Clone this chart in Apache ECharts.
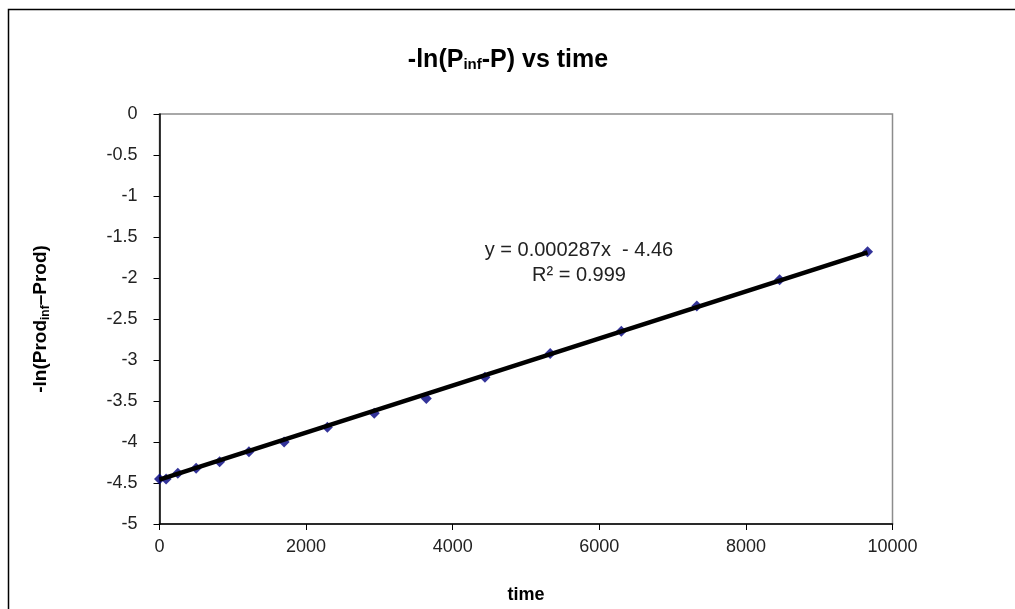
<!DOCTYPE html>
<html>
<head>
<meta charset="utf-8">
<script src="https://cdn.jsdelivr.net/npm/echarts@6/dist/echarts.min.js"></script>
<style>html,body{margin:0;padding:0;background:#fff}#c{width:1015px;height:609px}</style>
</head>
<body>
<div id="c"></div>
<script>
// Data
const timeValues = [0, 90, 250, 500, 820, 1220, 1700, 2290, 2930, 3640, 4440, 5330, 6300, 7330, 8460, 9660];
const lnValues = [-4.45, -4.45, -4.38, -4.32, -4.24, -4.12, -4.00, -3.82, -3.65, -3.47, -3.21, -2.92, -2.65, -2.34, -2.02, -1.68];
const trendSlope = 0.000287;
const trendIntercept = -4.46;
const equationLines = ['y = 0.000287x  - 4.46', 'R\u00b2 = 0.999'];
const xTicks = { min: 0, max: 10000, interval: 2000 };
const yTicks = { min: -5, max: 0, interval: 0.5 };

const points = timeValues.map((t, i) => [t, lnValues[i]]);
const tMin = Math.min(...timeValues), tMax = Math.max(...timeValues);
const trend = [[tMin, trendSlope * tMin + trendIntercept], [tMax, trendSlope * tMax + trendIntercept]];

const font = '"Liberation Sans", Arial, sans-serif';
const chart = echarts.init(document.getElementById('c'), null, { renderer: 'canvas' });
chart.setOption({
  backgroundColor: '#fff',
  animation: false,
  title: {
    text: '{m|-ln(P}{s|inf}{m|-P) vs time}',
    left: 503, top: 43, textAlign: 'center',
    textStyle: {
      rich: {
        m: { fontFamily: font, fontSize: 25, fontWeight: 'bold', color: '#000', lineHeight: 30, verticalAlign: 'top' },
        s: { fontFamily: font, fontSize: 15, fontWeight: 'bold', color: '#000', lineHeight: 30, verticalAlign: 'top', padding: [9, 0, 0, 0] }
      }
    }
  },
  grid: { left: 159.5, right: 122.5, top: 114, bottom: 84, show: true, borderColor: '#8c8c8c', borderWidth: 1.5, backgroundColor: '#fff' },
  xAxis: {
    type: 'value', min: xTicks.min, max: xTicks.max, interval: xTicks.interval,
    name: 'time', nameLocation: 'middle', nameGap: 62,
    nameTextStyle: { fontFamily: font, fontSize: 18, fontWeight: 'bold', color: '#000' },
    axisLine: { show: true, onZero: false, lineStyle: { color: '#000', width: 1.5 } },
    axisTick: { show: true, length: 6, lineStyle: { color: '#000' } },
    axisLabel: { fontFamily: font, fontSize: 18, color: '#222', margin: 14, formatter: v => String(v) },
    splitLine: { show: false }
  },
  yAxis: {
    type: 'value', min: yTicks.min, max: yTicks.max, interval: yTicks.interval,
    name: '{m|-ln(Prod}{s|inf}{m|\u2013Prod)}', nameLocation: 'middle', nameRotate: 90, nameGap: 106,
    nameTextStyle: {
      rich: {
        m: { fontFamily: font, fontSize: 19, fontWeight: 'bold', color: '#000', lineHeight: 22, verticalAlign: 'top' },
        s: { fontFamily: font, fontSize: 12, fontWeight: 'bold', color: '#000', lineHeight: 22, verticalAlign: 'top', padding: [8, 0, 0, 0] }
      }
    },
    axisLine: { show: true, onZero: false, lineStyle: { color: '#000', width: 1.5 } },
    axisTick: { show: true, length: 6, lineStyle: { color: '#000' } },
    axisLabel: { fontFamily: font, fontSize: 18, color: '#222', margin: 22 },
    splitLine: { show: false }
  },
  series: [
    {
      type: 'scatter', data: points, symbol: 'diamond', symbolSize: 11,
      itemStyle: { color: '#00007f' }, z: 2
    },
    {
      type: 'line', data: trend, symbol: 'none', z: 3,
      lineStyle: { color: '#000', width: 4.5 }
    }
  ],
  graphic: [
    { type: 'rect', shape: { x: 8.5, y: 9.5, width: 1010, height: 620 }, style: { fill: 'none', stroke: '#000', lineWidth: 1.5 }, z: 100 },
    { type: 'text', x: 579, y: 250, style: { text: equationLines[0], font: '20px ' + font, fill: '#222', textAlign: 'center', textVerticalAlign: 'middle' }, z: 100 },
    { type: 'text', x: 579, y: 275, style: { text: equationLines[1], font: '20px ' + font, fill: '#222', textAlign: 'center', textVerticalAlign: 'middle' }, z: 100 }
  ]
});
</script>
</body>
</html>
